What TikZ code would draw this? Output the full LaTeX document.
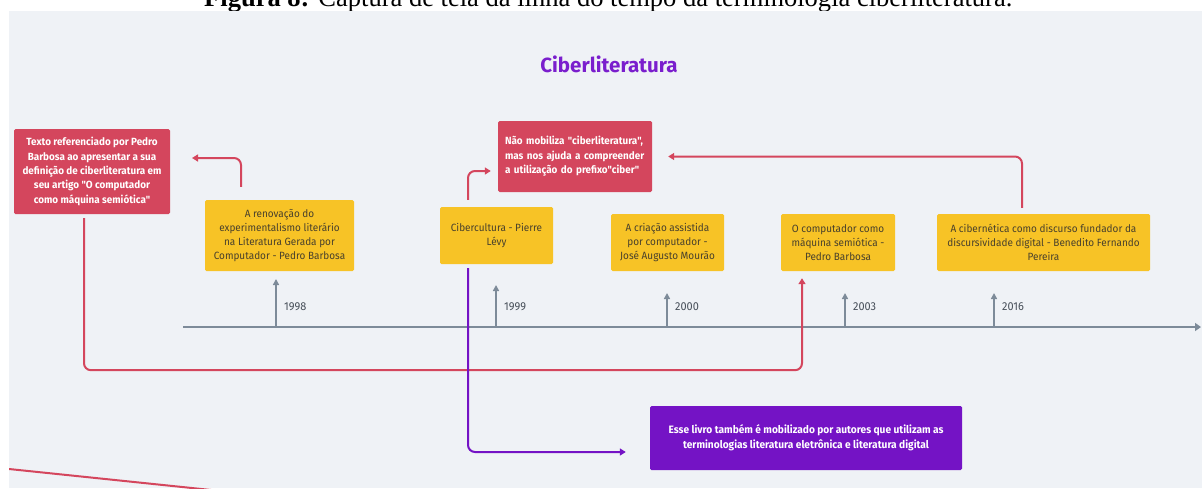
\documentclass[tikz,border=0pt]{standalone}
\usepackage{fontspec}
\setmainfont{Liberation Serif}
\newfontfamily\df[FakeStretch=0.95]{Fira Sans}
\newfontfamily\tf{Fira Sans}
\usetikzlibrary{arrows.meta}
\definecolor{bgp}{RGB}{239,242,246}
\definecolor{redb}{RGB}{212,70,93}
\definecolor{yel}{RGB}{247,195,38}
\definecolor{purb}{RGB}{116,19,197}
\definecolor{titp}{RGB}{122,30,205}
\definecolor{axg}{RGB}{125,139,153}
\definecolor{ytxt}{RGB}{72,64,44}
\definecolor{yrtxt}{RGB}{70,78,88}
\begin{document}
\begin{tikzpicture}[x=1pt,y=-1pt,
  box/.style={rounded corners=1.5pt, inner sep=0pt, align=center},
  ybox/.style={box, fill=yel, text=ytxt, font=\df\fontsize{10.5}{13.8}\selectfont},
  rbox/.style={box, fill=redb, text=white, font=\df\bfseries\fontsize{10.4}{14.4}\selectfont},
  pbox/.style={box, fill=purb, text=white, font=\df\bfseries\fontsize{10.7}{15}\selectfont},
  rline/.style={draw=redb, line width=2pt, rounded corners=7pt, -{Triangle[width=7pt,length=6pt]}},
  pline/.style={draw=purb, line width=2pt, rounded corners=7pt, -{Triangle[width=7pt,length=6pt]}},
  axisline/.style={draw=axg, line width=2.5pt, -{Triangle[width=8pt,length=6pt]}},
  tickline/.style={draw=axg, line width=1.8pt, -{Triangle[width=6pt,length=6pt]}},
  yearlbl/.style={anchor=west, inner sep=0pt, text=yrtxt, font=\df\fontsize{11.5}{12}\selectfont}
]
\useasboundingbox (0,0) rectangle (1202,488);
\fill[white] (0,0) rectangle (1202,488);
% caption, cut off at the top
\begin{scope}
\clip (0,0) rectangle (1202,11);
\node[anchor=base west, inner sep=0pt] (cap) at (204,6.5)
  {\resizebox{808pt}{!}{\textbf{Figura 8:} Captura de tela da linha do tempo da terminologia ciberliteratura.}};
\end{scope}
% panel
\begin{scope}
\clip (9,11) rectangle (1202,488);
\fill[bgp] (9,11) rectangle (1202,488);
\coordinate (d0) at (9,469);
\coordinate (d1) at (240,493);
\draw[redb, line width=2pt] (d0) -- (d1);
\end{scope}

\node[font=\tf\bfseries\fontsize{20.5}{20.5}\selectfont, text=titp] (title) at (609,64) {Ciberliteratura};

% timeline
\coordinate (ax0) at (183,327);
\coordinate (ax1) at (1201,327);
\draw[axisline] (ax0) -- (ax1);
\foreach \n/\x/\t/\y in {a/276/279/1998, b/496/285/1999, c/667/293/2000, d/845/293/2003, e/994/293/2016}{
  \coordinate (tb\n) at (\x,327);
  \coordinate (tt\n) at (\x,\t);
  \draw[tickline] (tb\n) -- (tt\n);
  \node[yearlbl] (y\n) at (\x+8,307) {\y};
}

% boxes
\node[rbox, minimum width=156pt, minimum height=85pt] (red1) at (92,171.5)
  {Texto referenciado por Pedro\\Barbosa ao apresentar a sua\\definição de ciberliteratura em\\seu artigo "O computador\\como máquina semiótica"};
\node[ybox, minimum width=149pt, minimum height=71pt] (ren) at (279.5,235.5)
  {A renovação do\\experimentalismo literário\\na Literatura Gerada por\\Computador - Pedro Barbosa};
\node[ybox, minimum width=113pt, minimum height=57pt] (cib) at (496.5,235.5)
  {Cibercultura - Pierre\\Lévy};
\node[rbox, minimum width=154pt, minimum height=71pt, align=left, text width=140pt] (red2) at (575,156.5)
  {Não mobiliza "ciberliteratura",\\mas nos ajuda a compreender\\a utilização do prefixo"ciber"};
\node[ybox, minimum width=113pt, minimum height=57pt] (cri) at (667.5,242.5)
  {A criação assistida\\por computador -\\José Augusto Mourão};
\node[ybox, minimum width=114pt, minimum height=57pt] (comp) at (838,242.5)
  {O computador como\\máquina semiótica -\\Pedro Barbosa};
\node[ybox, minimum width=213pt, minimum height=57pt] (cibn) at (1043.5,242.5)
  {A cibernética como discurso fundador da\\discursividade digital - Benedito Fernando\\Pereira};
\node[pbox, minimum width=312pt, minimum height=64pt] (purp) at (806,438)
  {Esse livro também é mobilizado por autores que utilizam as\\terminologias literatura eletrônica e literatura digital};

% connectors
\coordinate (a1) at (192,158);
\draw[rline] ([xshift=-38.5pt,yshift=13pt]ren.north) |- (a1);
\draw[rline] ([xshift=-28.5pt,yshift=7pt]cib.north) |- ([xshift=-7pt,yshift=-14.5pt]red2.west);
\draw[rline] ([xshift=-21.5pt,yshift=6pt]cibn.north) |- ([xshift=16pt]red2.east);
\draw[rline] ([xshift=-8pt,yshift=-4pt]red1.south) -- ++(0,152) -| ([xshift=-36pt,yshift=-7pt]comp.south);
\draw[pline] ([xshift=-28.5pt,yshift=-4pt]cib.south) |- ([xshift=-24pt,yshift=-14pt]purp.west);
\end{tikzpicture}
\end{document}
